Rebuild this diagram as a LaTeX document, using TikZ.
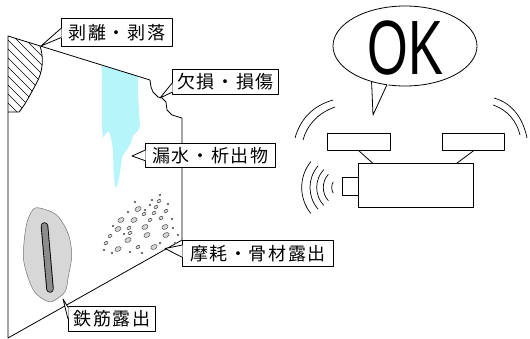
\documentclass[tikz,border=0pt]{standalone}
\usepackage{fontspec}
\setmainfont{Liberation Sans}
\newfontfamily\jp{Noto Sans CJK JP}[LetterSpace=9]
\usetikzlibrary{calc,shapes.geometric}

\definecolor{leak}{RGB}{182,245,250}
\definecolor{spall}{RGB}{215,215,215}
\definecolor{bar}{RGB}{140,140,140}

% pointer of a label box: box name, tip, two fractions along its west side
\newcommand\tagptr[4]{%
  \fill[white] ($(#1.north west)!#3!(#1.south west)+(0.7,0)$) -- (#2)
     -- ($(#1.north west)!#4!(#1.south west)+(0.7,0)$) -- cycle;
  \draw[ptr] ($(#1.north west)!#3!(#1.south west)$) -- (#2)
     -- ($(#1.north west)!#4!(#1.south west)$);}

\begin{document}
\begin{tikzpicture}[x=1pt,y=-1pt,line join=round,
  wall/.style={line width=0.8pt},
  ptr/.style={line width=0.8pt},
  tag/.style={draw,fill=white,line width=0.8pt,inner sep=0pt,anchor=north west,
    font=\jp\fontsize{18}{18}\selectfont},
  part/.style={draw,line width=0.8pt,inner sep=0pt,anchor=north west},
  aggL/.style={draw=black!70,fill=black!15,line width=0.55pt},
  aggT/.style={draw=black!65,fill=black!10,line width=0.45pt}]
\useasboundingbox (0,0) rectangle (530,338);

% ---- leakage stain
\fill[leak, rounded corners=1.2pt] (101.7,65) -- (138.3,76.5) -- (138,95) -- (139.5,118)
  -- (140,127) -- (137,132) -- (133,135) -- (131,143) -- (128,148) -- (122,157)
  -- (120,173) -- (117,187) -- (115,188) -- (113.5,170) -- (113,150) -- (111,138)
  -- (109,131) -- (106,133) -- (103,138) -- (102,128) -- cycle;

% ---- spalled area (hatched)
\begin{scope}
  \clip (8,36) -- (40,46) .. controls (44,58) and (43,72) .. (36,84)
        .. controls (30,95) and (25,105) .. (19,112) -- (8,112) -- cycle;
  \foreach \x in {-110,-101,...,50}
    \draw[line width=0.7pt] (\x,30) -- ++(90,90);
\end{scope}
\draw[wall] (40,46) .. controls (44,58) and (43,72) .. (36,84)
        .. controls (30,95) and (25,105) .. (19,112) -- (8,112);

% ---- wall outline
\draw[wall] (8,338) -- (8,36) -- (150,80) -- (151,87) -- (153,92) -- (158,97)
  -- (162,98) -- (166,102) -- (167,110) -- (172,115) -- (182,118) -- (182,240)
  -- (8,338);

% ---- exposed rebar
\draw[draw=black!55,fill=spall,line width=0.5pt] plot[smooth cycle] coordinates
  {(35,208) (46.7,210) (56.7,215) (65,226.7) (70,240) (71.7,256.7) (68.3,276.7)
   (65,291.7) (51.7,301.7) (41.7,298.3) (33.3,290) (26.7,273.3) (23.3,256.7)
   (25,233.3) (28.3,218.3)};
\draw[line width=7.5pt,line cap=round] (44.5,226) -- (50,289);
\draw[line width=5.7pt,line cap=round,bar] (44.5,226) -- (50,289);

% ---- exposed aggregate
\foreach \p in {(138,209),(121,220),(118,229),(145,227),(165,227),(147,235),
                (166,235),(128,240),(118,249),(154,247),(134,220)}
  \draw[aggL,rotate around={25:\p}] \p ellipse (3.3 and 2.2);
\foreach \p in {(159,201),(156,207),(166,211),(154,213),(161,218),(129,228),
                (106,243),(138,247),(130,233),(110,236),(144,214),(150,220)}
  \draw[aggL,rotate around={25:\p}] \p ellipse (2.1 and 1.5);
\foreach \p in {(152,200),(150,205),(145,210),(128,212),(172,219),(173,228),
                (178,235),(104,250),(112,253),(130,252),(142,253),(160,243),
                (175,243),(160,195),(168,204),(135,202),(113,226),(124,234)}
  \draw[aggT] \p circle (1.0);

% ---- labels
\node[tag,minimum width=111,minimum height=28] (t1) at (61,18) {剥離・剥落};
\node[tag,minimum width=106,minimum height=25] (t2) at (172,69) {欠損・損傷};
\node[tag,minimum width=130,minimum height=24] (t3) at (145,143) {漏水・析出物};
\node[tag,minimum width=151,minimum height=26] (t4) at (182,240) {摩耗・骨材露出};
\node[tag,minimum width=87,minimum height=25] (t5) at (68,306) {鉄筋露出};
\coordinate (p1) at (41,46);
\coordinate (p2) at (160,98);
\coordinate (p3) at (132,156);
\coordinate (p4) at (165,248.5);
\coordinate (p5) at (63,299);
\tagptr{t1}{p1}{0.36}{0.68}
\tagptr{t2}{p2}{0.55}{0.9}
\tagptr{t3}{p3}{0.29}{0.71}
\tagptr{t4}{p4}{0.19}{0.64}
\tagptr{t5}{p5}{0.05}{0.5}

% ---- inspection robot
\node[draw,ellipse,line width=0.8pt,minimum width=144,minimum height=80,inner sep=0pt]
  (bubble) at (405,46) {};
\coordinate (btip) at (373,115);
\fill[white] ($(bubble.227)!1.2!(bubble.center)$) -- (btip)
  -- ($(bubble.245)!1.2!(bubble.center)$) -- cycle;
\draw[ptr] (bubble.227) -- (btip) -- (bubble.245);
\node (ok) at (405.5,48) {\scalebox{0.68}[1]{\fontsize{77}{77}\selectfont OK}};

\node[part,minimum width=63,minimum height=17] (pl) at (327,133) {};
\node[part,minimum width=62.5,minimum height=17] (pr) at (441.8,133) {};
\node[part,minimum width=115,minimum height=44] (body) at (358.3,163.3) {};
\node[part,minimum width=15.6,minimum height=18.3,anchor=north east] (lens) at (body.west |- 0,176.7) {};
\draw[wall] (pl.south) -- ($(body.north west)!0.125!(body.north east)$);
\draw[wall] (pr.south) -- ($(body.north west)!0.85!(body.north east)$);

% signal arcs
\coordinate (sig) at (343,187.5);
\foreach \r/\a in {11.3/30,19.7/42,26.3/43,33/41,41.3/39}
  \draw[line width=0.7pt] ($(sig)+(180-\a:\r)$) arc[start angle=180-\a,end angle=180+\a,radius=\r];
\draw[line width=0.7pt] (333,100) .. controls (312,106) and (300,120) .. (295,138);
\draw[line width=0.7pt] (335,107) .. controls (318,113) and (307,125) .. (303,140);
\draw[line width=0.7pt] (494,98) .. controls (512,103) and (523,118) .. (527,138);
\draw[line width=0.7pt] (493,105) .. controls (508,110) and (517,122) .. (520,135);
\end{tikzpicture}
\end{document}
